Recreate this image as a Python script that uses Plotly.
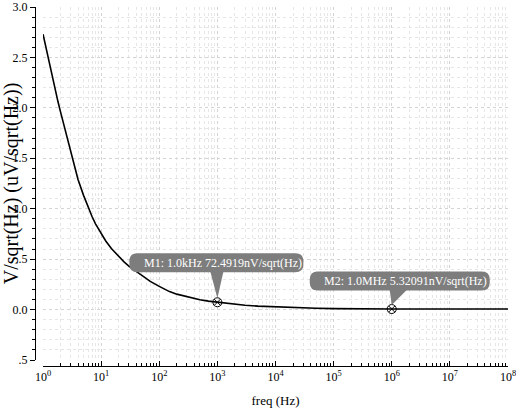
import numpy as np
import plotly.graph_objects as go

# ---- data ----
freq_hz = [1, 1.25, 1.5, 1.81, 2, 2.5, 3, 4, 5, 6, 7, 8, 10, 12, 15, 20, 25, 30, 40, 50, 70,
           100, 150, 200, 300, 500, 700, 1000, 1500, 2000, 3000, 5000, 1e4, 2e4, 5e4,
           1e5, 2e5, 5e5, 1e6, 1e7, 1e8]
noise_uv = [2.73, 2.47, 2.27, 2.06, 1.96, 1.75, 1.55, 1.29, 1.13, 1.01, 0.92, 0.85, 0.755,
            0.68, 0.605, 0.525, 0.47, 0.43, 0.38, 0.335, 0.28,
            0.23, 0.178, 0.153, 0.125, 0.097, 0.084, 0.0725, 0.060, 0.052, 0.043, 0.034,
            0.026, 0.0195, 0.0125, 0.0095, 0.0075, 0.0060, 0.0053, 0.0053, 0.0053]

marker_freq = [1000, 1e6]
marker_val = [0.0724919, 0.00532091]
marker_text = ["M1: 1.0kHz 72.4919nV/sqrt(Hz)", "M2: 1.0MHz 5.32091nV/sqrt(Hz)"]

x_tickvals = [1, 10, 100, 1e3, 1e4, 1e5, 1e6, 1e7, 1e8]
x_ticktext = ["10<sup>%d</sup>" % i for i in range(9)]
y_tickvals = [-0.5, 0.0, 0.5, 1.0, 1.5, 2.0, 2.5, 3.0]
y_ticktext = [".5", "0.0", ".5", "1.0", "1.5", "2.0", "2.5", "3.0"]

FONT = "Liberation Serif"
W, H = 516, 416
ML, MR, MT, MB = 35, 8, 7, 50
pw, ph = W - ML - MR, H - MT - MB

fig = go.Figure()
fig.add_trace(go.Scatter(x=freq_hz, y=noise_uv, mode="lines",
                         line=dict(color="black", width=1.6),
                         showlegend=False, hoverinfo="skip"))
fig.add_trace(go.Scatter(x=marker_freq, y=marker_val, mode="markers",
                         marker=dict(symbol="circle-x-open", size=9, color="black",
                                     line=dict(width=1)),
                         showlegend=False))


def rrect(x0, x1, y0, y1, r):
    return (f"M{x0+r},{y0} L{x1-r},{y0} Q{x1},{y0} {x1},{y0+r} L{x1},{y1-r} "
            f"Q{x1},{y1} {x1-r},{y1} L{x0+r},{y1} Q{x0},{y1} {x0},{y1-r} "
            f"L{x0},{y0+r} Q{x0},{y0} {x0+r},{y0} Z")


# callout styling (pixel offsets relative to each marker)
boxes = [(-88, 86, 30, 49), (-82, 98, 18.5, 37.5)]
tris = [((-7, 30.5), (6, 30.5), (0, 4)), ((-2, 19), (15, 19), (0, 4))]
text_shift = [(6, 39.5), (14, 28)]
grey = "#7d7d7d"
for i in range(2):
    bx = boxes[i]
    fig.add_shape(type="path", xref="x", yref="y", xsizemode="pixel", ysizemode="pixel",
                  xanchor=marker_freq[i], yanchor=marker_val[i],
                  path=rrect(bx[0], bx[1], bx[2], bx[3], 8),
                  fillcolor=grey, line=dict(width=0), layer="above")
    t = tris[i]
    fig.add_shape(type="path", xref="x", yref="y", xsizemode="pixel", ysizemode="pixel",
                  xanchor=marker_freq[i], yanchor=marker_val[i],
                  path=f"M{t[0][0]},{t[0][1]} L{t[1][0]},{t[1][1]} L{t[2][0]},{t[2][1]} Z",
                  fillcolor=grey, line=dict(width=0), layer="above")
    fig.add_annotation(x=np.log10(marker_freq[i]), y=marker_val[i], text=marker_text[i],
                       showarrow=False, xshift=text_shift[i][0], yshift=text_shift[i][1],
                       font=dict(family=FONT, size=12, color="white"))

fig.update_layout(
    width=W, height=H,
    margin=dict(l=ML, r=MR, t=MT, b=MB, pad=0),
    paper_bgcolor="white", plot_bgcolor="white",
    font=dict(family=FONT, size=12, color="black"),
    xaxis=dict(type="log", range=[-0.0005, 8.0005], domain=[8 / pw, 1], anchor="free",
               position=0, automargin=False, ticklabeloverflow="allow",
               showline=True, linecolor="black", linewidth=1,
               tickvals=x_tickvals, ticktext=x_ticktext,
               ticks="inside", ticklen=5, tickcolor="black",
               showgrid=True, gridcolor="#d4d4d4", griddash="dot", gridwidth=1,
               zeroline=False,
               minor=dict(dtick="D1", ticks="inside", ticklen=3, tickcolor="black",
                          showgrid=True, gridcolor="#e6e6e6", griddash="dot"),
               title=dict(text="freq (Hz)", font=dict(family=FONT, size=13), standoff=12),
               tickfont=dict(family=FONT, size=12)),
    yaxis=dict(range=[-0.5, 3.0], domain=[6 / ph, 1], anchor="free", position=0,
               automargin=False, ticklabeloverflow="allow",
               showline=True, linecolor="black", linewidth=1,
               tickvals=y_tickvals, ticktext=y_ticktext,
               ticks="outside", ticklen=5, tickcolor="black",
               showgrid=True, gridcolor="#d4d4d4", griddash="dot", gridwidth=1,
               zeroline=False,
               minor=dict(dtick=0.1, ticks="outside", ticklen=3, tickcolor="black",
                          showgrid=True, gridcolor="#e6e6e6", griddash="dot"),
               title=dict(text="V/sqrt(Hz) (uV/sqrt(Hz))", font=dict(family=FONT, size=20),
                          standoff=1),
               tickfont=dict(family=FONT, size=12)),
)

fig.write_html("out.html")
